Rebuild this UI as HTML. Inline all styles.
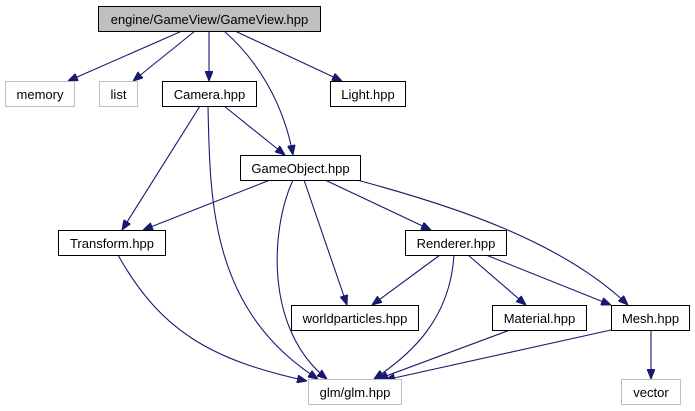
<!DOCTYPE html>
<html><head><meta charset="utf-8"><style>
html,body{margin:0;padding:0;background:#fff;}
svg{display:block;}
text{font-family:"Liberation Sans",sans-serif;font-size:13px;}
</style></head><body>
<svg width="695" height="411" viewBox="0 0 695 411" xmlns="http://www.w3.org/2000/svg">
<defs>
<marker id="a" viewBox="0 0 10 8" refX="10" refY="4" markerWidth="10" markerHeight="8" markerUnits="userSpaceOnUse" orient="auto">
<path d="M0,0 L10,4 L0,8 z" fill="#191970" stroke="#191970"/>
</marker>
</defs>
<g fill="none" stroke="#191970" stroke-width="1.1" marker-end="url(#a)">
<path d="M182,31 L68,81"/>
<path d="M195,31 L133,81"/>
<path d="M209,31 L209,81"/>
<path d="M224,31 C255,58 283,100 293,155"/>
<path d="M235,31 L342,81"/>
<path d="M224,106 L285,155"/>
<path d="M200,106 L122,230"/>
<path d="M208,106 C210,200 210,310 318,379"/>
<path d="M270,180 L143,230"/>
<path d="M293,180 C270,230 265,330 327,379"/>
<path d="M304,180 L347,305"/>
<path d="M325,180 L431,230"/>
<path d="M357,180 C450,205 560,240 628,305"/>
<path d="M118,255 C160,330 210,360 307,381"/>
<path d="M440,255 L372,305"/>
<path d="M454,255 C450,320 410,355 374,379"/>
<path d="M468,255 L526,305"/>
<path d="M486,255 L611,305"/>
<path d="M510,330 L378,379"/>
<path d="M611,330 L385,380"/>
<path d="M651,330 L651,379"/>
</g>
<g stroke-width="1">
<rect x="98.5" y="6.5" width="222" height="25" fill="#bfbfbf" stroke="#000"/>
<rect x="5.5" y="81.5" width="69" height="25" fill="#fff" stroke="#bfbfbf"/>
<rect x="99.5" y="81.5" width="38" height="25" fill="#fff" stroke="#bfbfbf"/>
<rect x="162.5" y="81.5" width="94" height="25" fill="#fff" stroke="#000"/>
<rect x="330.5" y="81.5" width="75" height="25" fill="#fff" stroke="#000"/>
<rect x="240.5" y="155.5" width="120" height="25" fill="#fff" stroke="#000"/>
<rect x="58.5" y="230.5" width="107" height="25" fill="#fff" stroke="#000"/>
<rect x="405.5" y="230.5" width="101" height="25" fill="#fff" stroke="#000"/>
<rect x="291.5" y="305.5" width="127" height="25" fill="#fff" stroke="#000"/>
<rect x="492.5" y="305.5" width="94" height="25" fill="#fff" stroke="#000"/>
<rect x="611.5" y="305.5" width="78" height="25" fill="#fff" stroke="#000"/>
<rect x="308.5" y="379.5" width="93" height="25" fill="#fff" stroke="#bfbfbf"/>
<rect x="621.5" y="379.5" width="59" height="25" fill="#fff" stroke="#bfbfbf"/>
</g>
<g fill="#000" text-anchor="middle">
<text x="209.5" y="24">engine/GameView/GameView.hpp</text>
<text x="40" y="99">memory</text>
<text x="118.5" y="99">list</text>
<text x="209.5" y="99">Camera.hpp</text>
<text x="368" y="99">Light.hpp</text>
<text x="300.5" y="173">GameObject.hpp</text>
<text x="112" y="248">Transform.hpp</text>
<text x="456" y="248">Renderer.hpp</text>
<text x="355" y="323">worldparticles.hpp</text>
<text x="539.5" y="323">Material.hpp</text>
<text x="650.5" y="323">Mesh.hpp</text>
<text x="355" y="397">glm/glm.hpp</text>
<text x="651" y="397">vector</text>
</g>
</svg>
</body></html>
